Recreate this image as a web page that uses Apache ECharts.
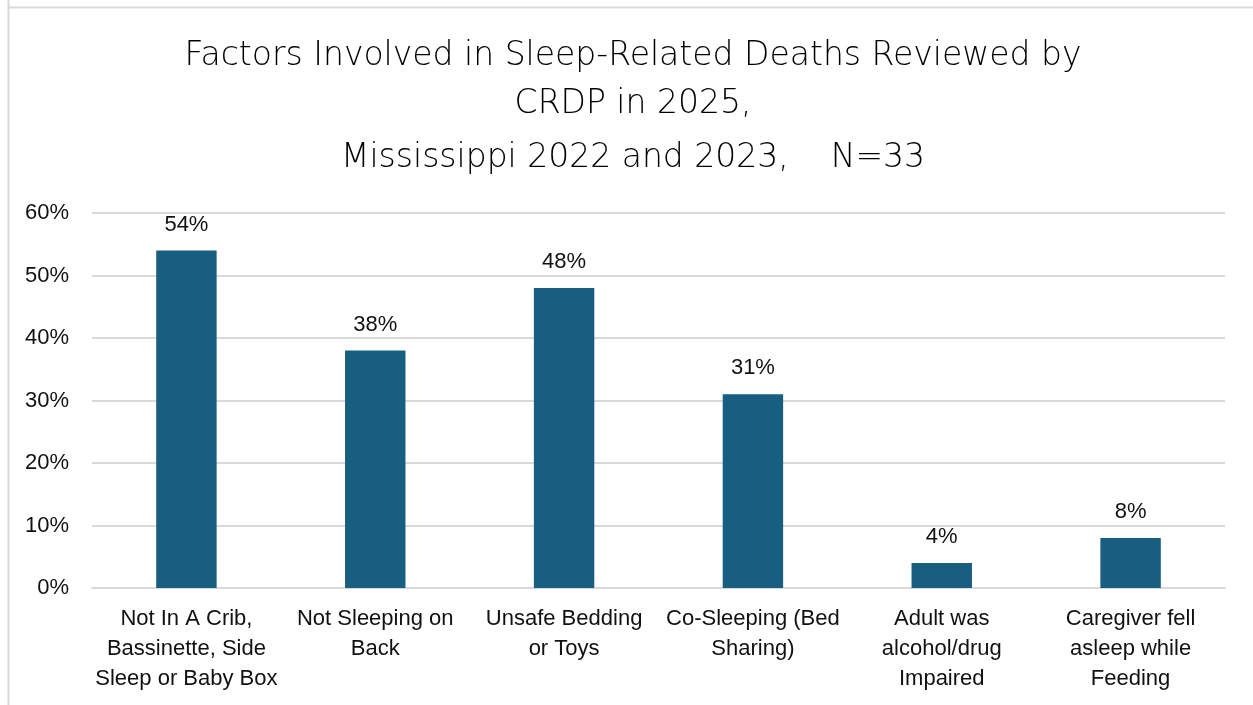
<!DOCTYPE html>
<html><head><meta charset="utf-8">
<script src="https://cdn.jsdelivr.net/npm/echarts@6/dist/echarts.min.js"></script>
<style>html,body{margin:0;padding:0;background:#fff}#c{width:1253px;height:705px}</style>
</head><body><div id="c"></div>
<script>
const categories = ["Not In A Crib,\nBassinette, Side\nSleep or Baby Box","Not Sleeping on\nBack","Unsafe Bedding\nor Toys","Co-Sleeping (Bed\nSharing)","Adult was\nalcohol/drug\nImpaired","Caregiver fell\nasleep while\nFeeding"];
const values = [54, 38, 48, 31, 4, 8];
const titleLines = ["Factors Involved in Sleep-Related Deaths Reviewed by","CRDP in 2025,","Mississippi 2022 and 2023,    N=33"];
const chart = echarts.init(document.getElementById('c'));
const tf = {fontFamily:'DejaVu Sans', fontSize:33, color:'#000', fontWeight:200};
const lf = {fontFamily:'Liberation Sans', fontSize:22, color:'#111'};
chart.setOption({
  animation:false,
  title: [
    {text:titleLines[0], left:628, top:35, textAlign:'center', textStyle:tf},
    {text:titleLines[1], left:628, top:83, textAlign:'center', textStyle:tf},
    {text:titleLines[2], left:628, top:137, textAlign:'center', textStyle:tf}
  ],
  graphic:[
    {type:'line', shape:{x1:8.5,y1:0,x2:8.5,y2:705}, style:{stroke:'#d9d9d9',lineWidth:2}},
    {type:'line', shape:{x1:8,y1:7.5,x2:1253,y2:7.5}, style:{stroke:'#d9d9d9',lineWidth:2}}
  ],
  grid:{left:92, right:28, top:213, bottom:117, containLabel:false},
  xAxis:{type:'category', data:categories,
    axisLine:{show:true, lineStyle:{color:'#d9d9d9', width:2}}, axisTick:{show:false},
    axisLabel:Object.assign({lineHeight:30, margin:16, interval:0}, lf)},
  yAxis:{type:'value', min:0, max:60, interval:10,
    axisLabel:Object.assign({formatter:'{value}%', margin:23}, lf),
    axisLine:{show:false}, axisTick:{show:false},
    splitLine:{lineStyle:{color:'#d9d9d9', width:2}}},
  series:[{type:'bar', data:values, barWidth:'32%',
    itemStyle:{color:'#175E80'},
    label:Object.assign({show:true, position:'top', distance:15, formatter:'{c}%'}, lf)}]
});
</script></body></html>
